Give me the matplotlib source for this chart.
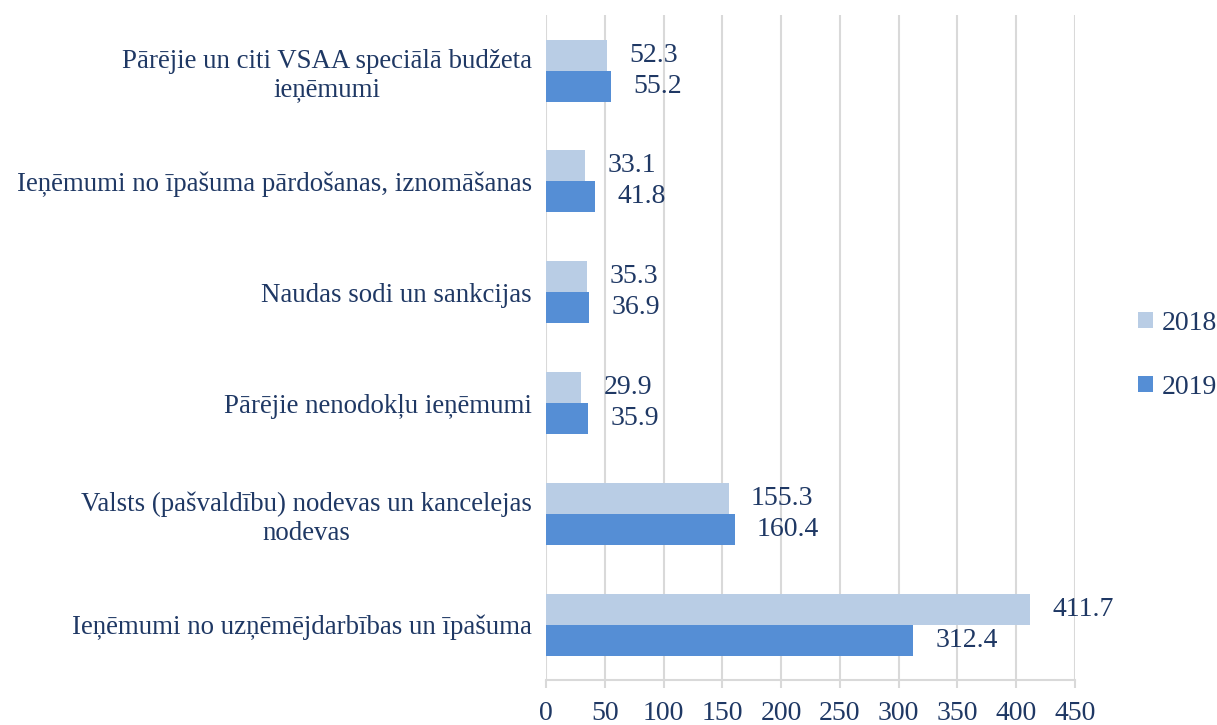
import numpy as np
import matplotlib.pyplot as plt

categories = [
    "Pārējie un citi VSAA speciālā budžeta\nieņēmumi",
    "Ieņēmumi no īpašuma pārdošanas, iznomāšanas",
    "Naudas sodi un sankcijas",
    "Pārējie nenodokļu ieņēmumi",
    "Valsts (pašvaldību) nodevas un kancelejas\nnodevas",
    "Ieņēmumi no uzņēmējdarbības un īpašuma",
]
vals_2018 = [52.3, 33.1, 35.3, 29.9, 155.3, 411.7]
vals_2019 = [55.2, 41.8, 36.9, 35.9, 160.4, 312.4]
years = ["2018", "2019"]

txt = "#1F3864"
c18 = "#B9CDE5"
c19 = "#558ED5"
plt.rcParams['font.family'] = ['Liberation Serif', 'DejaVu Serif']
fs = 20

fig = plt.figure(figsize=(12.17, 7.25), dpi=100)
ax = fig.add_axes([0.4486, 0.062, 0.4347, 0.917])

y = np.arange(len(categories))
h = 0.28
b1 = ax.barh(y - h/2, vals_2018, height=h, color=c18, label=years[0], zorder=3)
b2 = ax.barh(y + h/2, vals_2019, height=h, color=c19, label=years[1], zorder=3)

for bars, vals in [(b1, vals_2018), (b2, vals_2019)]:
    for bar, v in zip(bars, vals):
        ax.annotate(f"{v:.1f}", (v, bar.get_y() + bar.get_height()/2),
                    xytext=(16, 0), textcoords='offset points',
                    va='center', ha='left', fontsize=fs, color=txt)

ax.set_ylim(len(categories) - 0.5, -0.5)
ax.set_xlim(0, 450)
ax.set_xticks(np.arange(0, 451, 50))
ax.set_yticks(y)
ax.set_yticklabels(categories)
for t in ax.get_yticklabels():
    t.set_multialignment('center')
ax.tick_params(axis='y', length=0, pad=10, labelsize=19.4, labelcolor=txt)
ax.tick_params(axis='x', length=6, color='#D9D9D9', width=1.5, labelsize=fs, labelcolor=txt, pad=9)
ax.grid(axis='x', color='#D9D9D9', linewidth=1.5, zorder=0)
for s in ['top', 'right', 'left']:
    ax.spines[s].set_visible(False)
ax.spines['bottom'].set_color('#D9D9D9')
ax.spines['bottom'].set_linewidth(1.5)

leg = fig.legend(handles=[b1, b2], loc='center left', bbox_to_anchor=(0.935, 0.51),
                 frameon=False, fontsize=fs, labelspacing=1.4, borderpad=0,
                 borderaxespad=0, handlelength=0.55, handleheight=0.55, handletextpad=0.3)
for t in leg.get_texts():
    t.set_color(txt)

plt.savefig("out.png", dpi=100)
